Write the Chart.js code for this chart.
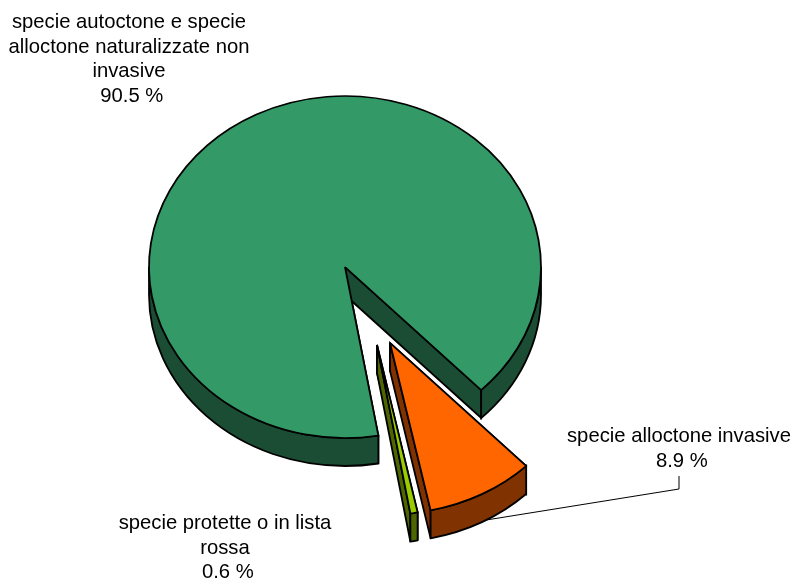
<!DOCTYPE html>
<html>
<head>
<meta charset="utf-8">
<style>
  html, body { margin: 0; padding: 0; background: #fff; }
  canvas { display: block; }
</style>
<script src="https://cdn.jsdelivr.net/npm/chart.js@4/dist/chart.umd.min.js"></script>
</head>
<body>
<canvas id="grafico" width="792" height="578"></canvas>
<script>
// Dati del grafico
const categories = ['specie alloctone invasive', 'specie protette o in lista rossa', 'specie autoctone e specie alloctone naturalizzate non invasive'];
const values = [8.9, 0.6, 90.5];
const labelLines = [
    ['specie alloctone invasive'],
    ['specie protette o in lista', 'rossa'],
    ['specie autoctone e specie', 'alloctone naturalizzate non', 'invasive']
];

// Colori: faccia superiore e parete laterale
const topColors = ['#FF6600', '#99CC00', '#339966'];
const wallColors = ['#803300', '#4D6600', '#1A4D33'];

// Aspetto della torta in pseudo 3D
const RADIUS = 196;
const SQUASH = 171 / 196;
const DEPTH = 28;
const LINE_W = 1.8;
const explode = [[45, 76], [32, 78], [0, 0]];
const labelPos = [[679, 442], [225, 529], [129, 28]];
const LINE_HEIGHT = 24.5;
const leader = [[679, 476], [679, 489], [480, 521]];

// Parete laterale di una fetta: prima i tagli, poi il bordo esterno visibile
function drawWalls(ctx, arc, i) {
    const rx = arc.outerRadius, ry = rx * SQUASH;
    const cx = arc.x + explode[i][0], cy = arc.y + explode[i][1];
    ctx.fillStyle = wallColors[i];
    ctx.strokeStyle = '#000';
    ctx.lineWidth = LINE_W;
    ctx.lineJoin = 'miter';

    [arc.startAngle, arc.endAngle].forEach(a => {
        const px = cx + Math.cos(a) * rx, py = cy + Math.sin(a) * ry;
        ctx.beginPath();
        ctx.moveTo(cx, cy);
        ctx.lineTo(px, py);
        ctx.lineTo(px, py + DEPTH);
        ctx.lineTo(cx, cy + DEPTH);
        ctx.closePath();
        ctx.fill();
        ctx.stroke();
    });

    // solo la parte di bordo rivolta verso il basso (0..PI, 2PI..3PI)
    [[0, Math.PI], [2 * Math.PI, 3 * Math.PI]].forEach(([lo, hi]) => {
        const a = Math.max(arc.startAngle, lo), b = Math.min(arc.endAngle, hi);
        if (b <= a) return;
        ctx.beginPath();
        ctx.ellipse(cx, cy, rx, ry, 0, a, b);
        ctx.ellipse(cx, cy + DEPTH, rx, ry, 0, b, a, true);
        ctx.closePath();
        ctx.fill();
        ctx.stroke();
    });
}

// Faccia superiore: l'arco di Chart.js schiacciato in un'ellisse
function drawTop(ctx, arc, i) {
    ctx.save();
    ctx.translate(arc.x + explode[i][0], arc.y + explode[i][1]);
    ctx.scale(1, SQUASH);
    ctx.translate(-arc.x, -arc.y);
    arc.draw(ctx);
    ctx.restore();
}

function drawLabels(ctx) {
    ctx.fillStyle = '#000';
    ctx.font = '20.25px "Liberation Sans"';
    ctx.textAlign = 'center';
    ctx.textBaseline = 'alphabetic';
    labelLines.forEach((lines, i) => {
        // lo spazio iniziale sposta un po' la riga del valore
        const rows = lines.concat(' ' + values[i].toFixed(1) + ' %');
        rows.forEach((row, r) => {
            ctx.fillText(row, labelPos[i][0], labelPos[i][1] + r * LINE_HEIGHT);
        });
    });
}

const pie3d = {
    id: 'pie3d',
    beforeDatasetsDraw(chart) {
        const ctx = chart.ctx;
        const arcs = chart.getDatasetMeta(0).data;

        // linea guida dell'etichetta, sotto la fetta arancione
        ctx.save();
        ctx.miterLimit = 3; // niente punte lunghe sugli angoli stretti
        ctx.strokeStyle = '#000';
        ctx.lineWidth = 1;
        ctx.beginPath();
        leader.forEach(([x, y], k) => k ? ctx.lineTo(x, y) : ctx.moveTo(x, y));
        ctx.stroke();

        // dalla fetta piu' grande verso quelle staccate in primo piano
        for (let i = arcs.length - 1; i >= 0; i--) {
            drawWalls(ctx, arcs[i], i);
            drawTop(ctx, arcs[i], i);
        }
        drawLabels(ctx);
        ctx.restore();
        return false; // il disegno standard non serve
    }
};

new Chart(document.getElementById('grafico'), {
    type: 'pie',
    data: {
        labels: categories,
        datasets: [{
            data: values,
            backgroundColor: topColors,
            borderColor: '#000',
            borderWidth: LINE_W,
            borderJoinStyle: 'miter'
        }]
    },
    options: {
        responsive: false,
        animation: false,
        events: [],
        rotation: 136,
        radius: RADIUS,
        layout: { padding: { right: 102, bottom: 44 } },
        plugins: { legend: { display: false }, tooltip: { enabled: false } }
    },
    plugins: [pie3d]
});
</script>
</body>
</html>
